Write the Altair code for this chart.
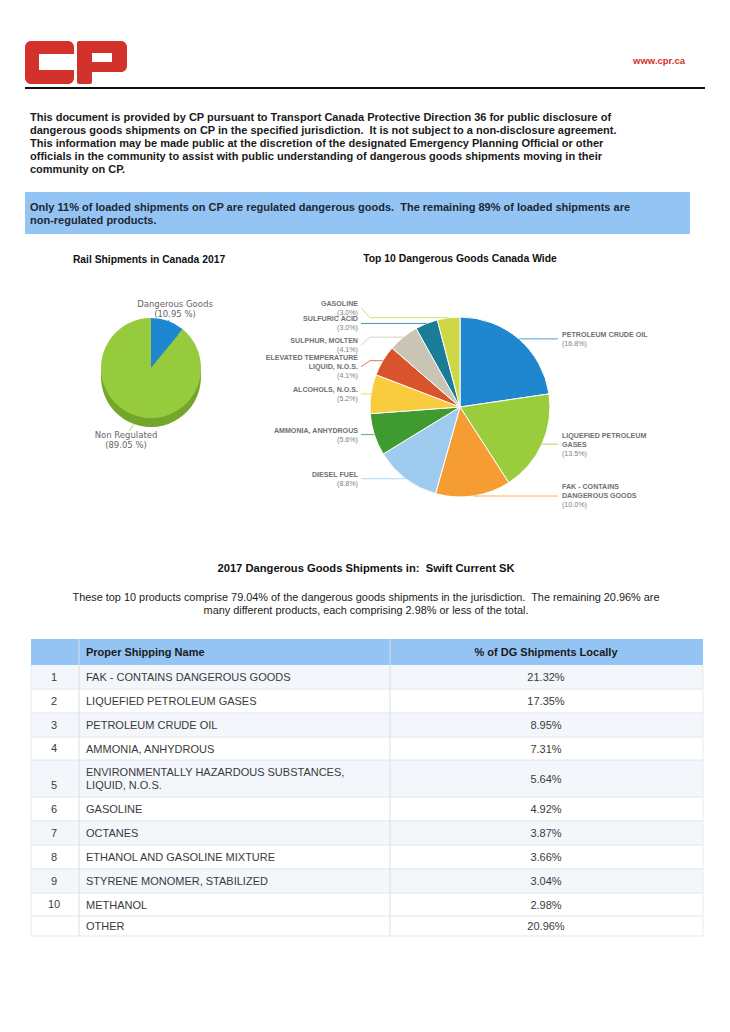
import altair as alt
import pandas as pd

# ------------------------------------------------------------------ data
rail_categories = ["Dangerous Goods", "Non Regulated"]
rail_values = [10.95, 89.05]

top10_names = [
    "PETROLEUM CRUDE OIL",
    "LIQUEFIED PETROLEUM GASES",
    "FAK - CONTAINS DANGEROUS GOODS",
    "DIESEL FUEL",
    "AMMONIA, ANHYDROUS",
    "ALCOHOLS, N.O.S.",
    "ELEVATED TEMPERATURE LIQUID, N.O.S.",
    "SULPHUR, MOLTEN",
    "SULFURIC ACID",
    "GASOLINE",
]
top10_values = [16.8, 13.5, 10.0, 8.8, 5.6, 5.2, 4.1, 4.1, 3.0, 3.0]

table_ranks = ["1", "2", "3", "4", "5", "6", "7", "8", "9", "10", ""]
table_names = [
    "FAK - CONTAINS DANGEROUS GOODS",
    "LIQUEFIED PETROLEUM GASES",
    "PETROLEUM CRUDE OIL",
    "AMMONIA, ANHYDROUS",
    "ENVIRONMENTALLY HAZARDOUS SUBSTANCES,\nLIQUID, N.O.S.",
    "GASOLINE",
    "OCTANES",
    "ETHANOL AND GASOLINE MIXTURE",
    "STYRENE MONOMER, STABILIZED",
    "METHANOL",
    "OTHER",
]
table_pcts = [21.32, 17.35, 8.95, 7.31, 5.64, 4.92, 3.87, 3.66, 3.04, 2.98, 20.96]

# ------------------------------------------------------------------ styles / layout
FONT = "Liberation Sans"
RED = "#d3322c"
BLUE_BAR = "#94c4f4"
SP2 = "\u00a0 "  # keeps the double spaces of the original text
top10_colors = ["#1f87cf", "#9acd3c", "#f59d33", "#9fcbef", "#3f9b30",
                "#f8cc3d", "#d9542c", "#c9c4b4", "#1b7c98", "#cdd748"]
top10_wrap = ["PETROLEUM CRUDE OIL", "LIQUEFIED PETROLEUM\nGASES", "FAK - CONTAINS\nDANGEROUS GOODS",
              "DIESEL FUEL", "AMMONIA, ANHYDROUS", "ALCOHOLS, N.O.S.",
              "ELEVATED TEMPERATURE\nLIQUID, N.O.S.", "SULPHUR, MOLTEN", "SULFURIC ACID", "GASOLINE"]
top10_label_dy = [0, 0, 0, 0, 0, 0, 6, 8, 0, -10]
rail_colors = ["#1f87cf", "#97cb3e"]
rail_anchor_rf = [0.75, 1.0]
rail_leader_end_x = [169, 129]
rail_leader_end_y = [320, 431]
rail_label_x = [175, 126]
rail_label_y = [307, 438]
table_row_heights = [24, 24, 24, 23, 37, 24, 24, 24, 24, 23, 20]

W, H = 714, 1016
O = 8
XS = alt.Scale(domain=[O, O + W], range=[0, W], nice=False, zero=False)
YS = alt.Scale(domain=[O, O + H], range=[0, H], nice=False, zero=False)


def px(v):
    return alt.value(v - O)


def py(v):
    return alt.value(v - O)


def X(f):
    return alt.X(f"{f}:Q", scale=XS, axis=None)


def Y(f):
    return alt.Y(f"{f}:Q", scale=YS, axis=None)


ONE = pd.DataFrame({"k": [0]})


def static_text(lines, x, y, size, weight="normal", color="#222222", align="left", lh=13, font=FONT):
    txt = lines if isinstance(lines, str) else (lines[0] if len(lines) == 1 else lines)
    return alt.Chart(ONE).mark_text(
        text=txt, fontSize=size, fontWeight=weight, color=color, align=align,
        baseline="alphabetic", lineHeight=lh, font=font
    ).encode(x=px(x), y=py(y))


def box(x1, y1, x2, y2, color, r=0):
    return alt.Chart(ONE).mark_rect(color=color, cornerRadius=r).encode(
        x=px(x1), x2=px(x2), y=py(y1), y2=py(y2))


def hline(x1, x2, y, color, w=1):
    return alt.Chart(ONE).mark_rule(color=color, strokeWidth=w).encode(
        x=px(x1), x2=px(x2), y=py(y))


def vline(x, y1, y2, color, w=1):
    return alt.Chart(ONE).mark_rule(color=color, strokeWidth=w).encode(
        x=px(x), y=py(y1), y2=py(y2))


layers = []

# ------------------------------------------------------------------ header (logo, url, rule)
layers += [
    box(25, 41, 74, 84, RED, 6),
    box(39, 54, 76, 70, "white"),
    box(77, 41, 127, 72, RED, 6),
    box(77, 41, 92, 84, RED, 2),
    box(92, 53, 112, 62, "white"),
    static_text("www.cpr.ca", 685, 64, 9.5, "bold", RED, "right"),
    hline(25, 705, 88, "#111111", 2),
]

# ------------------------------------------------------------------ intro paragraph and banner
para = [
    "This document is provided by CP pursuant to Transport Canada Protective Direction 36 for public disclosure of",
    "dangerous goods shipments on CP in the specified jurisdiction." + SP2 + "It is not subject to a non-disclosure agreement.",
    "This information may be made public at the discretion of the designated Emergency Planning Official or other",
    "officials in the community to assist with public understanding of dangerous goods shipments moving in their",
    "community on CP.",
]
layers.append(static_text(para, 30, 121, 11, "bold", "#1a1a1a", lh=13))
layers.append(box(25, 192, 690, 234, BLUE_BAR))
layers.append(static_text([
    "Only 11% of loaded shipments on CP are regulated dangerous goods." + SP2 + "The remaining 89% of loaded shipments are",
    "non-regulated products.",
], 30, 211, 11, "bold", "#1c2733", lh=13))

# ------------------------------------------------------------------ chart titles
layers.append(static_text("Rail Shipments in Canada 2017", 149, 263, 10.3, "bold", "#111111", "center"))
layers.append(static_text("Top 10 Dangerous Goods Canada Wide", 460, 262, 10.4, "bold", "#111111", "center"))

# ------------------------------------------------------------------ left pie (rail shipments)
RCX, RCY, RR, DEPTH = 151, 368, 50, 9
rail_df = pd.DataFrame({
    "cat": rail_categories, "value": rail_values, "idx": [0, 1], "col": rail_colors,
    "rf": rail_anchor_rf, "ex": rail_leader_end_x, "ey": rail_leader_end_y,
    "lx": rail_label_x, "ly": rail_label_y,
})
rail_base = alt.Chart(rail_df)
theta_r = alt.Theta("value:Q", stack=True)
layers.append(rail_base.mark_arc(radius=RR).encode(
    theta=theta_r, order=alt.Order("idx:Q"), color=alt.value("#74a62b"),
    x=px(RCX), y=py(RCY + DEPTH)))
layers.append(rail_base.mark_arc(radius=RR).encode(
    theta=theta_r, order=alt.Order("idx:Q"), color=alt.Color("col:N", scale=None),
    x=px(RCX), y=py(RCY)))

rail_geo = rail_base.transform_joinaggregate(total="sum(value)").transform_window(
    cum="sum(value)", sort=[alt.SortField("idx", order="ascending")], frame=[None, 0]
).transform_calculate(
    mid="2*PI*(datum.cum - datum.value/2)/datum.total"
).transform_calculate(
    ax=f"{RCX} + datum.rf*{RR}*sin(datum.mid)",
    ay=f"{RCY} - datum.rf*{RR}*cos(datum.mid) + (cos(datum.mid) < 0 ? {DEPTH} : 0)",
    lbl="datum.cat + '\\n(' + format(datum.value, '.2f') + ' %)'",
)
layers.append(rail_geo.mark_rule(strokeWidth=0.8).encode(
    x=X("ax"), y=Y("ay"), x2=alt.X2("ex"), y2=alt.Y2("ey"),
    color=alt.Color("col:N", scale=None)))
layers.append(rail_geo.mark_text(
    align="center", baseline="alphabetic", fontSize=8.5, color="#666666",
    lineHeight=9.5, lineBreak="\n", font="DejaVu Sans"
).encode(x=X("lx"), y=Y("ly"), text="lbl:N"))

# ------------------------------------------------------------------ right pie (top 10 canada wide)
CX, CY, R = 460, 407, 90
LH, FS = 9, 7.1
pie_df = pd.DataFrame({
    "name": top10_names, "value": top10_values, "idx": list(range(10)),
    "col": top10_colors, "wrap": top10_wrap, "dy": top10_label_dy,
    "nname": [w.count("\n") + 1 for w in top10_wrap],
})
pie_base = alt.Chart(pie_df)
layers.append(pie_base.mark_arc(radius=R, stroke="white", strokeWidth=1).encode(
    theta=alt.Theta("value:Q", stack=True), order=alt.Order("idx:Q"),
    color=alt.Color("col:N", scale=None), x=px(CX), y=py(CY)))

pie_geo = pie_base.transform_joinaggregate(total="sum(value)").transform_window(
    cum="sum(value)", sort=[alt.SortField("idx", order="ascending")], frame=[None, 0]
).transform_calculate(
    mid="2*PI*(datum.cum - datum.value/2)/datum.total"
).transform_calculate(
    ax=f"{CX} + {R}*sin(datum.mid)",
    ay=f"{CY} - {R}*cos(datum.mid)",
    right="datum.mid < PI ? 1 : 0",
).transform_calculate(
    yc="datum.ay + datum.dy",
    bx="datum.right == 1 ? max(datum.ax, 550) : min(datum.ax, 370)",
    lx="datum.right == 1 ? 558 : 361",
    pct="'(' + format(datum.value, '.1f') + '%)'",
).transform_calculate(
    y0=f"datum.yc - datum.nname*{LH}/2 + {0.35 * FS}",
).transform_calculate(
    ypct=f"datum.y0 + datum.nname*{LH}",
)
layers.append(pie_geo.mark_rule(strokeWidth=0.8).encode(
    x=X("ax"), y=Y("ay"), x2=alt.X2("bx"), y2=alt.Y2("ay"),
    color=alt.Color("col:N", scale=None)))
layers.append(pie_geo.mark_rule(strokeWidth=0.8).encode(
    x=X("bx"), y=Y("ay"), x2=alt.X2("lx"), y2=alt.Y2("yc"),
    color=alt.Color("col:N", scale=None)))
for side, align, lxv in [(1, "left", 562), (0, "right", 358)]:
    g = pie_geo.transform_filter(f"datum.right == {side}")
    layers.append(g.mark_text(
        align=align, baseline="alphabetic", fontSize=FS, fontWeight="bold", color="#707070",
        lineHeight=LH, lineBreak="\n", font=FONT
    ).encode(x=px(lxv), y=Y("y0"), text="wrap:N"))
    layers.append(g.mark_text(
        align=align, baseline="alphabetic", fontSize=FS, color="#808080", font=FONT
    ).encode(x=px(lxv), y=Y("ypct"), text="pct:N"))

# ------------------------------------------------------------------ local section titles
layers.append(static_text("2017 Dangerous Goods Shipments in:" + SP2 + "Swift Current SK", 366, 572, 11.2, "bold",
                          "#111111", "center"))
layers.append(static_text([
    "These top 10 products comprise 79.04% of the dangerous goods shipments in the jurisdiction." + SP2
    + "The remaining 20.96% are",
    "many different products, each comprising 2.98% or less of the total.",
], 366, 601, 10.9, "normal", "#222222", "center", lh=13))

# ------------------------------------------------------------------ table
T_TOP, T_HEAD_BOT = 639, 665
tops = [T_HEAD_BOT]
for h in table_row_heights:
    tops.append(tops[-1] + h)
tbl = pd.DataFrame({
    "rank": table_ranks, "name": table_names, "pct": table_pcts,
    "row": list(range(1, len(table_names) + 1)),
    "top": tops[:-1], "bot": tops[1:],
    "nl": [n.count("\n") + 1 for n in table_names],
})
tbase = alt.Chart(tbl).transform_calculate(
    shade="datum.rank != '' && datum.row % 2 == 1 ? '#f3f6fa' : '#ffffff'",
    yr="datum.bot - 12 + 4",
    yn="(datum.top + datum.bot)/2 - (datum.nl - 1)*13/2 + 4",
    yp="(datum.top + datum.bot)/2 + 4",
    ptxt="format(datum.pct, '.2f') + '%'",
)
layers.append(tbase.mark_rect().encode(
    x=px(31), x2=px(703), y=Y("top"), y2=alt.Y2("bot"), color=alt.Color("shade:N", scale=None)))
layers.append(tbase.mark_rule(color="#e1e5ea", strokeWidth=1).encode(
    x=px(31), x2=px(703), y=Y("bot")))
layers.append(box(31, T_TOP, 703, T_HEAD_BOT, BLUE_BAR))
for xv in [79, 390]:
    layers.append(vline(xv, T_TOP, tops[-1], "#d9dee4"))
layers.append(vline(31, T_HEAD_BOT, tops[-1], "#e8ebee"))
layers.append(vline(703, T_HEAD_BOT, tops[-1], "#e8ebee"))
layers.append(static_text("Proper Shipping Name", 86, 656, 11, "bold", "#1a1a1a"))
layers.append(static_text("% of DG Shipments Locally", 546, 656, 11, "bold", "#1a1a1a", "center"))
layers.append(tbase.mark_text(align="center", baseline="alphabetic", fontSize=11, color="#3a3a3a",
                              font=FONT).encode(x=px(54), y=Y("yr"), text="rank:N"))
layers.append(tbase.mark_text(align="left", baseline="alphabetic", fontSize=11, color="#3a3a3a",
                              lineHeight=13, lineBreak="\n", font=FONT).encode(
    x=px(86), y=Y("yn"), text="name:N"))
layers.append(tbase.mark_text(align="center", baseline="alphabetic", fontSize=11, color="#3a3a3a",
                              font=FONT).encode(x=px(546), y=Y("yp"), text="ptxt:N"))

chart = alt.layer(*layers).resolve_scale(theta="independent").properties(
    width=W, height=H, autosize=alt.AutoSizeParams(type="none"), padding=0, background="white"
).configure_view(stroke=None)

chart.save("out.html", embed_options={"renderer": "svg", "actions": False})
